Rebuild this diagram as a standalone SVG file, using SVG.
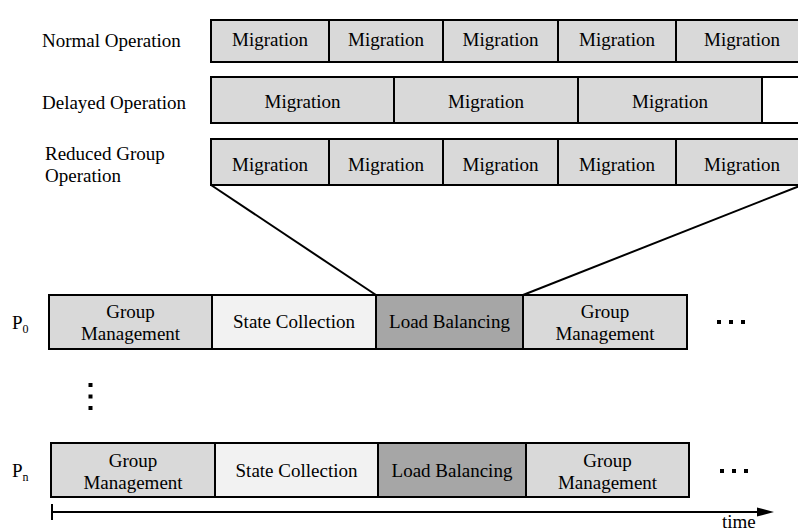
<svg xmlns="http://www.w3.org/2000/svg" width="798" height="531" viewBox="0 0 798 531">
<style>
text{font-family:'Liberation Serif','Times New Roman','DejaVu Serif',serif;font-size:19px;fill:#000}
.c{text-anchor:middle}
.box{stroke:#000;stroke-width:2}
.mig{fill:#d9d9d9}
.gm{fill:#d9d9d9}
.sc{fill:#f2f2f2}
.lb{fill:#a6a6a6}
.wh{fill:#fff}
.ln{stroke:#000;stroke-width:2;fill:none}
.dot{fill:#000}
</style>
<rect width="798" height="531" fill="#fff"/>
<g id="labels" font-family="Liberation Serif, serif">
<text x="42" y="47">Normal Operation</text>
<text x="42" y="109">Delayed Operation</text>
<text x="45" y="160">Reduced Group</text>
<text x="45" y="182">Operation</text>
<text x="12" y="329">P<tspan font-size="12" dy="4">0</tspan></text>
<text x="12" y="477">P<tspan font-size="12" dy="4">n</tspan></text>
<text x="722" y="528">time</text>
</g>
<g id="connectors">
<line class="ln" x1="211" y1="185" x2="376" y2="295"/>
<line class="ln" x1="802" y1="185" x2="523" y2="295"/>
<line class="ln" x1="52" y1="512" x2="760" y2="512"/>
<line class="ln" x1="52" y1="504" x2="52" y2="520"/>
<polygon points="757,507.5 774,512 757,516.5" fill="#000"/>
</g>
<g id="normal">
<rect class="box mig" x="211" y="20" width="118" height="42"/>
<rect class="box mig" x="329" y="20" width="114" height="42"/>
<rect class="box mig" x="443" y="20" width="115" height="42"/>
<rect class="box mig" x="558" y="20" width="118" height="42"/>
<rect class="box mig" x="676" y="20" width="132" height="42"/>
<text class="c" x="270" y="46">Migration</text>
<text class="c" x="386" y="46">Migration</text>
<text class="c" x="500.5" y="46">Migration</text>
<text class="c" x="617" y="46">Migration</text>
<text class="c" x="742" y="46">Migration</text>
</g>
<g id="delayed">
<rect class="box mig" x="211" y="77" width="183" height="46"/>
<rect class="box mig" x="394" y="77" width="184" height="46"/>
<rect class="box mig" x="578" y="77" width="184" height="46"/>
<rect class="box wh" x="762" y="77" width="46" height="46"/>
<text class="c" x="302.5" y="108">Migration</text>
<text class="c" x="486" y="108">Migration</text>
<text class="c" x="670" y="108">Migration</text>
</g>
<g id="reduced">
<rect class="box mig" x="211" y="139" width="118" height="46"/>
<rect class="box mig" x="329" y="139" width="114" height="46"/>
<rect class="box mig" x="443" y="139" width="115" height="46"/>
<rect class="box mig" x="558" y="139" width="118" height="46"/>
<rect class="box mig" x="676" y="139" width="132" height="46"/>
<text class="c" x="270" y="171">Migration</text>
<text class="c" x="386" y="171">Migration</text>
<text class="c" x="500.5" y="171">Migration</text>
<text class="c" x="617" y="171">Migration</text>
<text class="c" x="742" y="171">Migration</text>
</g>
<g id="p0">
<rect class="box gm" x="49" y="295" width="163" height="54"/>
<rect class="box sc" x="212" y="295" width="164" height="54"/>
<rect class="box lb" x="376" y="295" width="147" height="54"/>
<rect class="box gm" x="523" y="295" width="164" height="54"/>
<text class="c" x="130.5" y="318">Group</text>
<text class="c" x="130.5" y="340">Management</text>
<text class="c" x="294" y="328">State Collection</text>
<text class="c" x="449.5" y="328">Load Balancing</text>
<text class="c" x="605" y="318">Group</text>
<text class="c" x="605" y="340">Management</text>
<rect class="dot" x="717" y="320" width="4" height="4"/>
<rect class="dot" x="729" y="320" width="4" height="4"/>
<rect class="dot" x="741" y="320" width="4" height="4"/>
</g>
<g id="vdots">
<rect class="dot" x="88.5" y="383" width="4" height="4"/>
<rect class="dot" x="88.5" y="394.5" width="4" height="4"/>
<rect class="dot" x="88.5" y="406" width="4" height="4"/>
</g>
<g id="pn">
<rect class="box gm" x="51" y="443" width="164" height="54"/>
<rect class="box sc" x="215" y="443" width="163" height="54"/>
<rect class="box lb" x="378" y="443" width="148" height="54"/>
<rect class="box gm" x="526" y="443" width="163" height="54"/>
<text class="c" x="133" y="467">Group</text>
<text class="c" x="133" y="489">Management</text>
<text class="c" x="296.5" y="477">State Collection</text>
<text class="c" x="452" y="477">Load Balancing</text>
<text class="c" x="607.5" y="467">Group</text>
<text class="c" x="607.5" y="489">Management</text>
<rect class="dot" x="720" y="469" width="4" height="4"/>
<rect class="dot" x="732" y="469" width="4" height="4"/>
<rect class="dot" x="744" y="469" width="4" height="4"/>
</g>
</svg>
